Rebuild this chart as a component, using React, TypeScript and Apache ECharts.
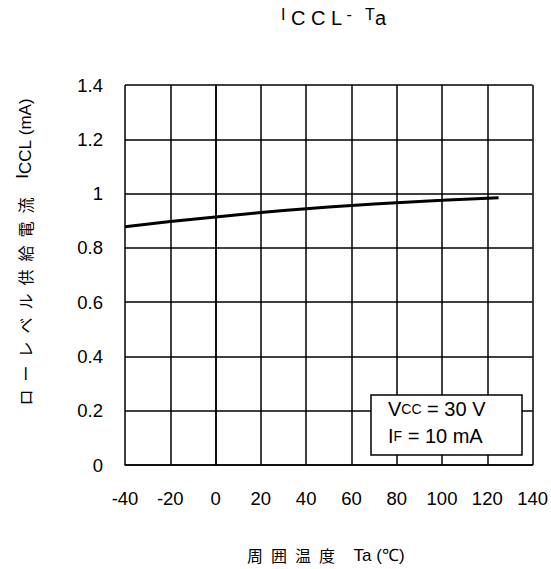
import React, { useEffect, useRef } from "react";
import * as echarts from "echarts";

const temps = [-40, -20, 0, 20, 40, 60, 80, 100, 125];
const iccl = [0.878, 0.897, 0.914, 0.93, 0.944, 0.956, 0.966, 0.975, 0.985];
const xTicks = { min: -40, max: 140, interval: 20 };
const yTicks = { min: 0, max: 1.4, interval: 0.2 };

const LATIN = "'Liberation Sans', Arial, sans-serif";
const CJK = "'Noto Sans CJK JP', 'Liberation Sans', sans-serif";
const SP = "\u2002";

export default function App() {
  const ref = useRef<HTMLDivElement>(null);
  useEffect(() => {
    document.body.style.margin = "0";
    const chart = echarts.init(ref.current!, null, { renderer: "svg" });
    const yName = ["ロ", "ー", "レ", "ベ", "ル", "供", "給", "電", "流"].join(SP);
    const xName = ["周", "囲", "温", "度"].join(SP);
    chart.setOption({
      animation: false,
      backgroundColor: "#fff",
      grid: { left: 125, right: 18, top: 85, bottom: 104, containLabel: false },
      xAxis: {
        type: "value",
        min: xTicks.min,
        max: xTicks.max,
        interval: xTicks.interval,
        axisLine: { show: true, lineStyle: { color: "#000", width: 1.5 } },
        axisTick: { show: false },
        splitLine: { show: true, lineStyle: { color: "#000", width: 1.5 } },
        axisLabel: { color: "#000", fontSize: 18.5, fontFamily: LATIN, margin: 24 },
      },
      yAxis: {
        type: "value",
        min: yTicks.min,
        max: yTicks.max,
        interval: yTicks.interval,
        axisLine: { show: true, lineStyle: { color: "#000", width: 1.5 } },
        axisTick: { show: false },
        splitLine: { show: true, lineStyle: { color: "#000", width: 1.5 } },
        axisLabel: { color: "#000", fontSize: 18.5, fontFamily: LATIN, margin: 22 },
      },
      series: [
        {
          type: "line",
          data: temps.map((t, i) => [t, iccl[i]]),
          smooth: true,
          symbol: "none",
          lineStyle: { color: "#000", width: 3 },
          z: 3,
        },
      ],
      graphic: [
        {
          type: "text",
          x: 281,
          y: 6,
          style: {
            text: "{h|I}{l| C C L}{h| -   T}{l|a}",
            fill: "#000",
            align: "left",
            verticalAlign: "top",
            rich: {
              h: { fontSize: 16, fontFamily: LATIN, fill: "#000", padding: [0, 0, 7, 0] },
              l: { fontSize: 20, fontFamily: LATIN, fill: "#000" },
            },
          },
        },
        {
          type: "text",
          x: 25,
          y: 252,
          rotation: Math.PI / 2,
          style: {
            text: `{j|${yName}}{s|    }{h|I}{l|CCL}{s| (mA)}`,
            fill: "#000",
            align: "center",
            verticalAlign: "middle",
            rich: {
              j: { fontSize: 16, fontFamily: CJK, fill: "#000" },
              s: { fontSize: 17, fontFamily: LATIN, fill: "#000" },
              h: { fontSize: 17, fontFamily: LATIN, fill: "#000", padding: [0, 0, 5, 0] },
              l: { fontSize: 17, fontFamily: LATIN, fill: "#000" },
            },
          },
        },
        {
          type: "text",
          x: 247,
          y: 555,
          style: {
            text: `{j|${xName}}{s|    Ta (℃)}`,
            fill: "#000",
            align: "left",
            verticalAlign: "middle",
            rich: {
              j: { fontSize: 16, fontFamily: CJK, fill: "#000" },
              s: { fontSize: 17, fontFamily: LATIN, fill: "#000" },
            },
          },
        },
        {
          type: "group",
          x: 371,
          y: 395,
          z: 100,
          children: [
            {
              type: "rect",
              z: 100,
              shape: { x: 0, y: 0, width: 151, height: 60 },
              style: { fill: "#fff", stroke: "#000", lineWidth: 1.5 },
            },
            {
              type: "text",
              z: 101,
              x: 17,
              y: 4,
              style: {
                text: "{a|V}{b|CC}{a| = 30 V}",
                rich: {
                  a: { fontSize: 20, fontFamily: LATIN, fill: "#000" },
                  b: { fontSize: 14, fontFamily: LATIN, fill: "#000" },
                },
              },
            },
            {
              type: "text",
              z: 101,
              x: 17,
              y: 31,
              style: {
                text: "{a|I}{b|F}{a| = 10 mA}",
                rich: {
                  a: { fontSize: 20, fontFamily: LATIN, fill: "#000" },
                  b: { fontSize: 14, fontFamily: LATIN, fill: "#000" },
                },
              },
            },
          ],
        },
      ],
    });
    return () => chart.dispose();
  }, []);
  return <div ref={ref} style={{ width: 551, height: 569 }} />;
}
